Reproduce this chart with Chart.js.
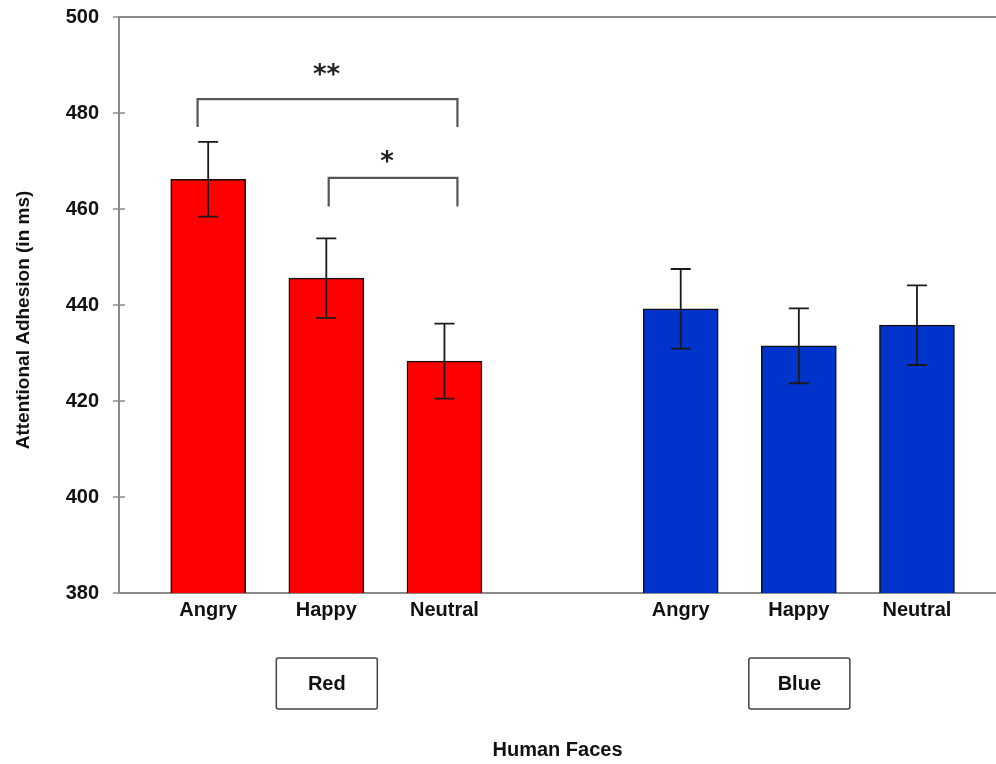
<!DOCTYPE html>
<html>
<head>
<meta charset="utf-8">
<script src="https://cdn.jsdelivr.net/npm/chart.js@4/dist/chart.umd.min.js"></script>
<style>
  html, body { margin: 0; padding: 0; background: #fff; }
  #wrap { width: 996px; height: 764px; position: relative; }
</style>
</head>
<body>
<div id="wrap"><canvas id="myChart"></canvas></div>
<script>
// data (ms)
var categories = ['Angry', 'Happy', 'Neutral'];
var groups = ['Red', 'Blue'];
var redMeans = [466.2, 445.6, 428.3];
var redErr = [7.8, 8.3, 7.8];
var blueMeans = [439.2, 431.5, 435.8];
var blueErr = [8.3, 7.8, 8.3];
var yTicks = [380, 400, 420, 440, 460, 480, 500];

// significance brackets: span in category positions, levels in ms
var brackets = [
  { from: -0.09, to: 2.11, level: 482.9, foot: 477.1, star: 488.6, label: '**' },
  { from: 1.02, to: 2.11, level: 466.5, foot: 460.5, star: 470.6, label: '*' }
];

// red bars sit at 0..2, gap, blue bars at 4..6
var redX = categories.map(function(c, i) { return i; });
var blueX = categories.map(function(c, i) { return i + 4; });
var tickPos = redX.concat(blueX);
var tickText = categories.concat(categories);

var axisColor = '#8a8a8a';
var fontFam = '"Liberation Sans", Arial, sans-serif';

function points(xs, ys) {
  return xs.map(function(x, i) { return { x: x, y: ys[i] }; });
}

// error bars, brackets, frame details, group boxes
var extras = {
  id: 'extras',
  afterDatasetsDraw: function(chart) {
    var ctx = chart.ctx;
    var xs = chart.scales.x, ys = chart.scales.y;
    var area = chart.chartArea;
    var errs = [redErr, blueErr];
    var means = [redMeans, blueMeans];

    ctx.save();
    // error bars
    ctx.strokeStyle = '#1a1a1a';
    ctx.lineWidth = 1.8;
    chart.data.datasets.forEach(function(ds, d) {
      var meta = chart.getDatasetMeta(d);
      meta.data.forEach(function(bar, i) {
        var yHi = ys.getPixelForValue(means[d][i] + errs[d][i]);
        var yLo = ys.getPixelForValue(means[d][i] - errs[d][i]);
        ctx.beginPath();
        ctx.moveTo(bar.x, yHi); ctx.lineTo(bar.x, yLo);
        ctx.moveTo(bar.x - 10, yHi); ctx.lineTo(bar.x + 10, yHi);
        ctx.moveTo(bar.x - 10, yLo); ctx.lineTo(bar.x + 10, yLo);
        ctx.stroke();
      });
    });

    // brackets
    ctx.strokeStyle = '#555';
    ctx.lineWidth = 2.2;
    ctx.fillStyle = '#222';
    ctx.textAlign = 'center';
    ctx.textBaseline = 'middle';
    brackets.forEach(function(b) {
      var x1 = xs.getPixelForValue(b.from);
      var x2 = xs.getPixelForValue(b.to);
      var yTop = ys.getPixelForValue(b.level);
      var yFoot = ys.getPixelForValue(b.foot);
      ctx.beginPath();
      ctx.moveTo(x1, yFoot); ctx.lineTo(x1, yTop);
      ctx.lineTo(x2, yTop); ctx.lineTo(x2, yFoot);
      ctx.stroke();
      ctx.font = 'bold 26px "DejaVu Sans", sans-serif';
      var tx = b.label.length > 1 ? (x1 + x2) / 2 - 1 : (x1 + x2) / 2 - 6;
      ctx.fillText(b.label, tx, ys.getPixelForValue(b.star) + 5);
    });

    // top frame line and y tick marks
    ctx.strokeStyle = axisColor;
    ctx.lineWidth = 2;
    ctx.beginPath();
    ctx.moveTo(area.left, area.top); ctx.lineTo(area.right, area.top);
    ctx.stroke();
    ctx.lineWidth = 1.5;
    yTicks.forEach(function(v) {
      var y = ys.getPixelForValue(v);
      ctx.beginPath();
      ctx.moveTo(area.left - 6, y); ctx.lineTo(area.left + 6, y);
      ctx.stroke();
    });

    // group boxes under the middle label of each group
    var mids = [redX[1], blueX[1]];
    ctx.font = 'bold 20px ' + fontFam;
    groups.forEach(function(g, k) {
      var cx = xs.getPixelForValue(mids[k]);
      ctx.strokeStyle = '#444';
      ctx.lineWidth = 1.5;
      ctx.beginPath();
      ctx.roundRect(cx - 50, 658, 101, 51, 2);
      ctx.stroke();
      ctx.fillStyle = '#111';
      ctx.fillText(g, cx + 0.5, 684);
    });

    // y axis title
    ctx.translate(23.5, 320);
    ctx.rotate(-Math.PI / 2);
    ctx.fillStyle = '#111';
    ctx.font = 'bold 19px ' + fontFam;
    ctx.fillText('Attentional Adhesion (in ms)', 0, 0);
    ctx.restore();
  }
};

var ctx = document.getElementById('myChart').getContext('2d');
var chart = new Chart(ctx, {
  type: 'bar',
  data: {
    datasets: [{
      label: groups[0],
      data: points(redX, redMeans),
      backgroundColor: '#ff0000',
      borderColor: '#111',
      borderWidth: 1.5,
      grouped: false,
      barThickness: 75,
      base: 380
    }, {
      label: groups[1],
      data: points(blueX, blueMeans),
      backgroundColor: '#0033cc',
      borderColor: '#111',
      borderWidth: 1.5,
      grouped: false,
      barThickness: 75,
      base: 380
    }]
  },
  options: {
    responsive: true,
    maintainAspectRatio: false,
    animation: false,
    layout: { padding: { top: 17, right: 0, bottom: 0, left: 0 } },
    plugins: {
      legend: { display: false },
      tooltip: { enabled: false }
    },
    scales: {
      x: {
        type: 'linear',
        offset: false,
        min: -0.755,
        max: 6.669,
        grid: { display: false, drawTicks: false },
        border: { color: axisColor, width: 2 },
        afterBuildTicks: function(s) {
          s.ticks = tickPos.map(function(v) { return { value: v }; });
        },
        afterFit: function(s) {
          s.height = 171;
          s.paddingLeft = 0; s.paddingRight = 0;
        },
        ticks: {
          padding: 5,
          color: '#111',
          font: { family: fontFam, size: 20, weight: 'bold' },
          callback: function(v) {
            var i = tickPos.indexOf(v);
            return i < 0 ? '' : tickText[i];
          }
        },
        title: {
          display: true,
          text: 'Human Faces',
          color: '#111',
          padding: { top: 2, bottom: 2 },
          font: { family: fontFam, size: 20, weight: 'bold' }
        }
      },
      y: {
        min: 380,
        max: 500,
        grid: { display: false, drawTicks: false },
        border: { color: axisColor, width: 2 },
        afterFit: function(s) {
          s.width = 119;
          s.paddingTop = 0; s.paddingBottom = 0;
        },
        ticks: {
          stepSize: 20,
          padding: 20,
          color: '#111',
          font: { family: fontFam, size: 20, weight: 'bold' }
        }
      }
    }
  },
  plugins: [extras]
});
</script>
</body>
</html>
